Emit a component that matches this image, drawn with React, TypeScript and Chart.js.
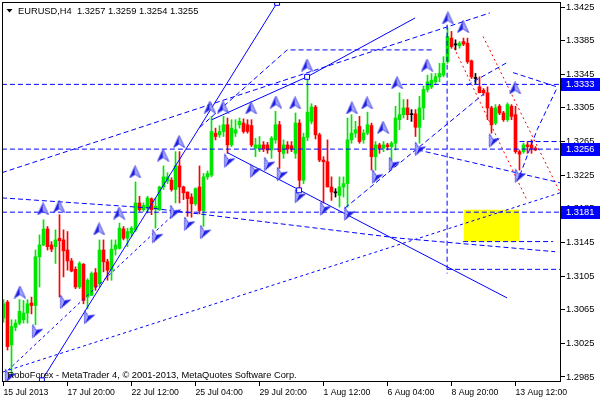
import React, { useEffect, useRef } from 'react';
import { Chart, registerables } from 'chart.js';

Chart.register(...registerables);

// ---- axis data ----
const tickBars = [0, 16, 32, 48, 64, 80, 96, 112, 128];
const tickLabels = ['15 Jul 2013', '17 Jul 20:00', '22 Jul 12:00', '25 Jul 04:00', '29 Jul 20:00', '1 Aug 12:00', '6 Aug 04:00', '8 Aug 20:00', '13 Aug 12:00'];
const priceTicks = [1.2985, 1.3025, 1.3065, 1.3105, 1.3145, 1.3185, 1.3225, 1.3265, 1.3305, 1.3345, 1.3385, 1.3425];
const levelPrices = [1.3333, 1.3256, 1.3181];

// ---- EURUSD H4 candles ----
const opens = [1.3055,1.3074,1.3023,1.3044,1.3049,1.3053,1.3061,1.3073,1.3070,1.3128,1.3142,1.3161,1.3142,1.3140,1.3150,1.3148,1.3136,1.3123,1.3113,1.3092,1.3119,1.3080,1.3082,1.3109,1.3096,1.3136,1.3122,1.3112,1.3137,1.3138,1.3161,1.3150,1.3156,1.3160,1.3192,1.3184,1.3186,1.3197,1.3185,1.3184,1.3211,1.3218,1.3219,1.3208,1.3236,1.3211,1.3205,1.3199,1.3191,1.3211,1.3183,1.3223,1.3225,1.3275,1.3273,1.3277,1.3285,1.3261,1.3275,1.3285,1.3287,1.3285,1.3284,1.3257,1.3257,1.3261,1.3261,1.3255,1.3267,1.3285,1.3251,1.3261,1.3260,1.3251,1.3287,1.3219,1.3270,1.3289,1.3306,1.3273,1.3243,1.3241,1.3211,1.3204,1.3201,1.3211,1.3215,1.3267,1.3275,1.3283,1.3267,1.3275,1.3284,1.3247,1.3261,1.3257,1.3261,1.3259,1.3263,1.3291,1.3297,1.3305,1.3297,1.3298,1.3282,1.3305,1.3327,1.3330,1.3336,1.3342,1.3344,1.3360,1.3388,1.3380,1.3379,1.3384,1.3382,1.3361,1.3340,1.3330,1.3326,1.3323,1.3305,1.3287,1.3307,1.3299,1.3291,1.3307,1.3297,1.3253,1.3253,1.3261,1.3261,1.3257];
const highs = [1.3077,1.3076,1.3053,1.3053,1.3077,1.3076,1.3077,1.3080,1.3136,1.3154,1.3172,1.3164,1.3146,1.3160,1.3178,1.3160,1.3158,1.3126,1.3116,1.3122,1.3120,1.3102,1.3110,1.3114,1.3148,1.3148,1.3125,1.3148,1.3148,1.3168,1.3164,1.3162,1.3164,1.3217,1.3200,1.3192,1.3200,1.3198,1.3198,1.3212,1.3236,1.3228,1.3222,1.3253,1.3253,1.3212,1.3205,1.3203,1.3210,1.3236,1.3227,1.3230,1.3295,1.3281,1.3284,1.3295,1.3293,1.3291,1.3291,1.3293,1.3292,1.3291,1.3291,1.3269,1.3271,1.3265,1.3264,1.3271,1.3301,1.3289,1.3267,1.3265,1.3265,1.3299,1.3291,1.3275,1.3342,1.3310,1.3308,1.3275,1.3247,1.3267,1.3223,1.3209,1.3223,1.3223,1.3293,1.3297,1.3289,1.3295,1.3279,1.3300,1.3287,1.3265,1.3263,1.3265,1.3263,1.3265,1.3307,1.3323,1.3315,1.3315,1.3303,1.3303,1.3319,1.3331,1.3344,1.3346,1.3346,1.3358,1.3366,1.3400,1.3396,1.3386,1.3384,1.3388,1.3388,1.3362,1.3346,1.3342,1.3328,1.3330,1.3307,1.3309,1.3309,1.3301,1.3311,1.3309,1.3307,1.3255,1.3263,1.3265,1.3267,1.3259];
const lows = [1.3050,1.3017,1.2989,1.3040,1.3047,1.3049,1.3049,1.3060,1.3047,1.3092,1.3141,1.3136,1.3134,1.3120,1.3080,1.3104,1.3112,1.3110,1.3090,1.3090,1.3072,1.3066,1.3082,1.3088,1.3092,1.3110,1.3100,1.3100,1.3130,1.3137,1.3148,1.3140,1.3152,1.3158,1.3182,1.3182,1.3180,1.3178,1.3162,1.3183,1.3208,1.3215,1.3206,1.3192,1.3192,1.3196,1.3176,1.3175,1.3189,1.3179,1.3164,1.3220,1.3223,1.3267,1.3270,1.3271,1.3251,1.3259,1.3271,1.3281,1.3275,1.3275,1.3259,1.3247,1.3253,1.3253,1.3251,1.3245,1.3263,1.3233,1.3245,1.3251,1.3253,1.3245,1.3207,1.3215,1.3266,1.3286,1.3268,1.3241,1.3192,1.3211,1.3195,1.3199,1.3187,1.3199,1.3187,1.3263,1.3270,1.3263,1.3263,1.3273,1.3231,1.3231,1.3251,1.3253,1.3255,1.3243,1.3255,1.3279,1.3293,1.3291,1.3289,1.3271,1.3263,1.3291,1.3324,1.3328,1.3334,1.3336,1.3342,1.3358,1.3376,1.3374,1.3376,1.3379,1.3358,1.3340,1.3334,1.3323,1.3320,1.3291,1.3275,1.3285,1.3297,1.3289,1.3289,1.3291,1.3251,1.3231,1.3251,1.3251,1.3251,1.3254];
const closes = [1.3072,1.3021,1.3045,1.3049,1.3063,1.3061,1.3072,1.3070,1.3128,1.3142,1.3161,1.3140,1.3137,1.3148,1.3147,1.3135,1.3123,1.3111,1.3092,1.3120,1.3076,1.3100,1.3108,1.3092,1.3136,1.3122,1.3112,1.3137,1.3142,1.3162,1.3150,1.3158,1.3162,1.3192,1.3184,1.3189,1.3198,1.3184,1.3188,1.3211,1.3223,1.3223,1.3208,1.3236,1.3211,1.3204,1.3197,1.3191,1.3209,1.3183,1.3223,1.3227,1.3277,1.3271,1.3277,1.3285,1.3261,1.3281,1.3279,1.3289,1.3277,1.3277,1.3261,1.3261,1.3261,1.3256,1.3255,1.3269,1.3285,1.3253,1.3261,1.3256,1.3256,1.3287,1.3219,1.3270,1.3300,1.3306,1.3273,1.3243,1.3241,1.3211,1.3205,1.3204,1.3211,1.3215,1.3267,1.3275,1.3279,1.3265,1.3275,1.3285,1.3247,1.3261,1.3257,1.3261,1.3259,1.3263,1.3293,1.3297,1.3305,1.3297,1.3297,1.3282,1.3305,1.3327,1.3336,1.3338,1.3342,1.3346,1.3358,1.3390,1.3378,1.3380,1.3382,1.3381,1.3360,1.3342,1.3340,1.3323,1.3323,1.3305,1.3285,1.3305,1.3299,1.3291,1.3309,1.3295,1.3253,1.3250,1.3261,1.3259,1.3257,1.3255];

// ---- analysis objects, as [bar index, price] ----
const solidLines = [
  [[9.6, 1.2981], [68.4, 1.3430]],
  [[52.1, 1.3291], [75.9, 1.3342], [102.9, 1.3412]],
  [[55.9, 1.3252], [125.9, 1.3079]],
];
const dashLines = [
  [[-0.4, 1.3333], [139.4, 1.3333]],
  [[-0.4, 1.3256], [139.4, 1.3256]],
  [[-0.4, 1.3181], [139.4, 1.3181]],
  [[-0.375, 1.3228], [121.6, 1.3418]],
  [[-0.375, 1.3198], [36.6, 1.3186], [99.1, 1.3150], [137.9, 1.3134]],
  [[114.9, 1.3146], [137.4, 1.3146]],
  [[49.1, 1.3282], [70.9, 1.3374], [107.4, 1.3374]],
  [[103.6, 1.3255], [139.1, 1.3216]],
  [[110.9, 1.3404], [110.9, 1.3108]],
  [[110.9, 1.3113], [139.4, 1.3113]],
  [[85.4, 1.3186], [119.9, 1.3321]],
  [[115.9, 1.3332], [125.9, 1.3359]],
  [[127.4, 1.3347], [138.4, 1.3330]],
  [[129.1, 1.3225], [133.4, 1.3279], [138.4, 1.3329]],
  [[129.0, 1.3265], [139.4, 1.3265]],
];
const dotLines = [
  [[-0.1, 1.2991], [139.1, 1.3204]],
  [[1.1, 1.2993], [42.9, 1.3180]],
];
const redDotLines = [
  [[112.1, 1.3382], [130.9, 1.3195]],
  [[119.9, 1.3390], [139.1, 1.3205]],
];
const anchorSquares = [[9.6, 1.2981], [68.4, 1.3430], [73.9, 1.3207], [75.9, 1.3342]];
const upArrows = [[4.1,1.3086],[9.9,1.3185],[13.9,1.3188],[23.9,1.3161],[28.9,1.3180],[32.9,1.3229],[39.9,1.3249],[43.9,1.3265],[51.6,1.3306],[54.9,1.3306],[61.9,1.3305],[68.1,1.3312],[72.9,1.3311],[75.9,1.3356],[87.1,1.3305],[90.9,1.3311],[94.9,1.3282],[98.4,1.3335],[105.9,1.3356],[111.1,1.3412],[114.9,1.3402],[127.9,1.3329]];
const downArrows = [[1.1,1.2985],[7.9,1.3038],[14.9,1.3073],[20.9,1.3055],[37.9,1.3151],[42.4,1.3180],[45.9,1.3166],[49.9,1.3156],[55.9,1.3241],[62.4,1.3229],[65.9,1.3237],[69.1,1.3225],[73.6,1.3199],[79.9,1.3184],[85.9,1.3178],[92.9,1.3222],[97.1,1.3237],[103.6,1.3255],[122.1,1.3265],[128.6,1.3223]];
const zoneBars = [115, 129];
const zonePrices = [1.3146, 1.3184];

const GREEN = '#00e600';
const RED = '#ff0000';
const BLUE = '#0000ff';
const FONT = 'Liberation Sans, Arial, sans-serif';

function makeArrow(): HTMLCanvasElement {
  const c = document.createElement('canvas');
  c.width = 13; c.height = 13;
  const g = c.getContext('2d')!;
  g.translate(6.5, 6.5);
  g.beginPath(); g.moveTo(0, -6); g.lineTo(-5.5, 6); g.lineTo(0, 2.5); g.closePath();
  g.fillStyle = '#1a1ae6'; g.fill();
  g.beginPath(); g.moveTo(0, -6); g.lineTo(5.5, 6); g.lineTo(0, 2.5); g.closePath();
  g.fillStyle = '#a8a8ff'; g.fill();
  g.strokeStyle = '#3030e0'; g.lineWidth = 0.8;
  g.beginPath(); g.moveTo(0, -6); g.lineTo(5.5, 6); g.lineTo(0, 2.5); g.lineTo(-5.5, 6); g.closePath(); g.stroke();
  return c;
}

const toPts = (arr: number[][]) => arr.map(([x, y]) => ({ x, y }));
const zeroPad = (s: any) => {
  s.paddingTop = 0; s.paddingBottom = 0; s.paddingLeft = 0; s.paddingRight = 0;
};

export default function App() {
  const ref = useRef<HTMLCanvasElement>(null);
  useEffect(() => {
    document.body.style.margin = '0';
    const canvas = ref.current!;
    const arrow = makeArrow();
    const n = opens.length;
    const colorOf = (i: number) => (closes[i] > opens[i] ? GREEN : closes[i] < opens[i] ? RED : '#000000');
    const colors = opens.map((_, i) => colorOf(i));

    const lineDs = (arr: number[][], color: string, dash: number[], order = 1) => ({
      type: 'line' as const,
      data: toPts(arr),
      borderColor: color,
      borderWidth: 1,
      borderDash: dash,
      pointRadius: 0,
      fill: false,
      tension: 0,
      order,
    });

    const datasets: any[] = [];
    datasets.push({
      type: 'line',
      data: [{ x: zoneBars[0], y: zonePrices[1] }, { x: zoneBars[1], y: zonePrices[1] }],
      borderWidth: 0,
      borderColor: 'rgba(0,0,0,0)',
      backgroundColor: '#ffff00',
      pointRadius: 0,
      fill: { value: zonePrices[0] },
      order: 20,
    });
    datasets.push({
      type: 'bar',
      data: opens.map((_, i) => ({ x: i, y: [lows[i], highs[i]] })),
      backgroundColor: colors,
      barThickness: 1,
      grouped: false,
      order: 11,
    });
    datasets.push({
      type: 'bar',
      data: opens.map((_, i) => ({ x: i, y: [Math.min(opens[i], closes[i]), Math.max(opens[i], closes[i])] })),
      backgroundColor: colors,
      barThickness: 3,
      minBarLength: 1,
      grouped: false,
      order: 10,
    });
    solidLines.forEach((l) => datasets.push(lineDs(l, BLUE, [])));
    dashLines.forEach((l) => datasets.push(lineDs(l, BLUE, [5, 3])));
    dotLines.forEach((l) => datasets.push(lineDs(l, BLUE, [3, 3])));
    redDotLines.forEach((l) => datasets.push(lineDs(l, RED, [2, 3])));
    datasets.push({
      type: 'line', data: toPts(anchorSquares), showLine: false,
      pointStyle: 'rect', pointRadius: 3.5, pointBorderColor: BLUE, pointBackgroundColor: '#ffffff', pointBorderWidth: 1, order: 0,
    });
    datasets.push({
      type: 'line', data: toPts(upArrows), showLine: false,
      pointStyle: arrow, pointRadius: 6, order: 0,
    });
    datasets.push({
      type: 'line', data: toPts(downArrows), showLine: false,
      pointStyle: arrow, pointRadius: 6, pointRotation: 205, order: 0,
    });

    const overlay = {
      id: 'mt4overlay',
      afterDraw(chart: any) {
        const { ctx, chartArea: a, scales } = chart;
        const ys = scales.y;
        ctx.save();
        ctx.strokeStyle = '#000';
        ctx.lineWidth = 1;
        ctx.setLineDash([]);
        ctx.strokeRect(a.left + 0.5, a.top + 0.5, a.right - a.left - 1, a.bottom - a.top - 1);
        ctx.font = `9.3px ${FONT}`;
        ctx.textBaseline = 'middle';
        ctx.textAlign = 'left';
        levelPrices.forEach((p) => {
          const y = Math.round(ys.getPixelForValue(p));
          ctx.fillStyle = BLUE;
          ctx.fillRect(a.right, y - 6, 600 - a.right, 13);
          ctx.fillStyle = '#ffffff';
          ctx.fillText(p.toFixed(4), a.right + 5, y + 0.5);
        });
        ctx.fillStyle = '#000';
        ctx.beginPath(); ctx.moveTo(6.5, 9); ctx.lineTo(12.5, 9); ctx.lineTo(9.5, 12.5); ctx.closePath(); ctx.fill();
        const last = n - 1;
        ctx.fillText(`EURUSD,H4  ${opens[last].toFixed(4)} ${highs[last].toFixed(4)} ${lows[last].toFixed(4)} ${closes[last].toFixed(4)}`, 18, 11);
        ctx.fillText('RoboForex - MetaTrader 4, \u00a9 2001-2013, MetaQuotes Software Corp.', 7.5, 375);
        ctx.restore();
      },
    };

    const chart = new Chart(canvas, {
      type: 'bar',
      data: { datasets },
      plugins: [overlay],
      options: {
        responsive: false,
        animation: false,
        devicePixelRatio: 1,
        events: [],
        layout: { autoPadding: false, padding: { left: 2, top: 2, right: 0, bottom: 0 } },
        plugins: { legend: { display: false }, tooltip: { enabled: false } },
        scales: {
          x: {
            type: 'linear',
            position: 'bottom',
            min: -0.375,
            max: 139.375,
            offset: false,
            afterBuildTicks: (s: any) => { s.ticks = tickBars.map((v) => ({ value: v })); },
            afterFit: (s: any) => { s.height = 18; zeroPad(s); },
            ticks: {
              autoSkip: false, maxRotation: 0, minRotation: 0, align: 'start', padding: 1,
              color: '#000', font: { family: FONT, size: 8.7 },
              callback: (_v: any, i: number) => tickLabels[i],
            },
            grid: { drawOnChartArea: false, drawTicks: true, tickLength: 4, color: '#000', offset: false },
            border: { display: false },
          },
          y: {
            type: 'linear',
            position: 'right',
            min: 1.2979,
            max: 1.3431,
            beginAtZero: false,
            afterBuildTicks: (s: any) => { s.ticks = priceTicks.map((v) => ({ value: v })); },
            afterFit: (s: any) => { s.width = 39; zeroPad(s); },
            ticks: {
              autoSkip: false, padding: 1, color: '#000', font: { family: FONT, size: 9.3 },
              callback: (v: any) => Number(v).toFixed(4),
            },
            grid: { drawOnChartArea: false, drawTicks: true, tickLength: 4, color: '#000' },
            border: { display: false },
          },
        },
      } as any,
    });
    return () => chart.destroy();
  }, []);

  return (
    <div style={{ position: 'absolute', left: 0, top: 0, width: 600, height: 400, background: '#ffffff' }}>
      <canvas ref={ref} width={600} height={400} style={{ width: 600, height: 400, display: 'block' }} />
    </div>
  );
}
